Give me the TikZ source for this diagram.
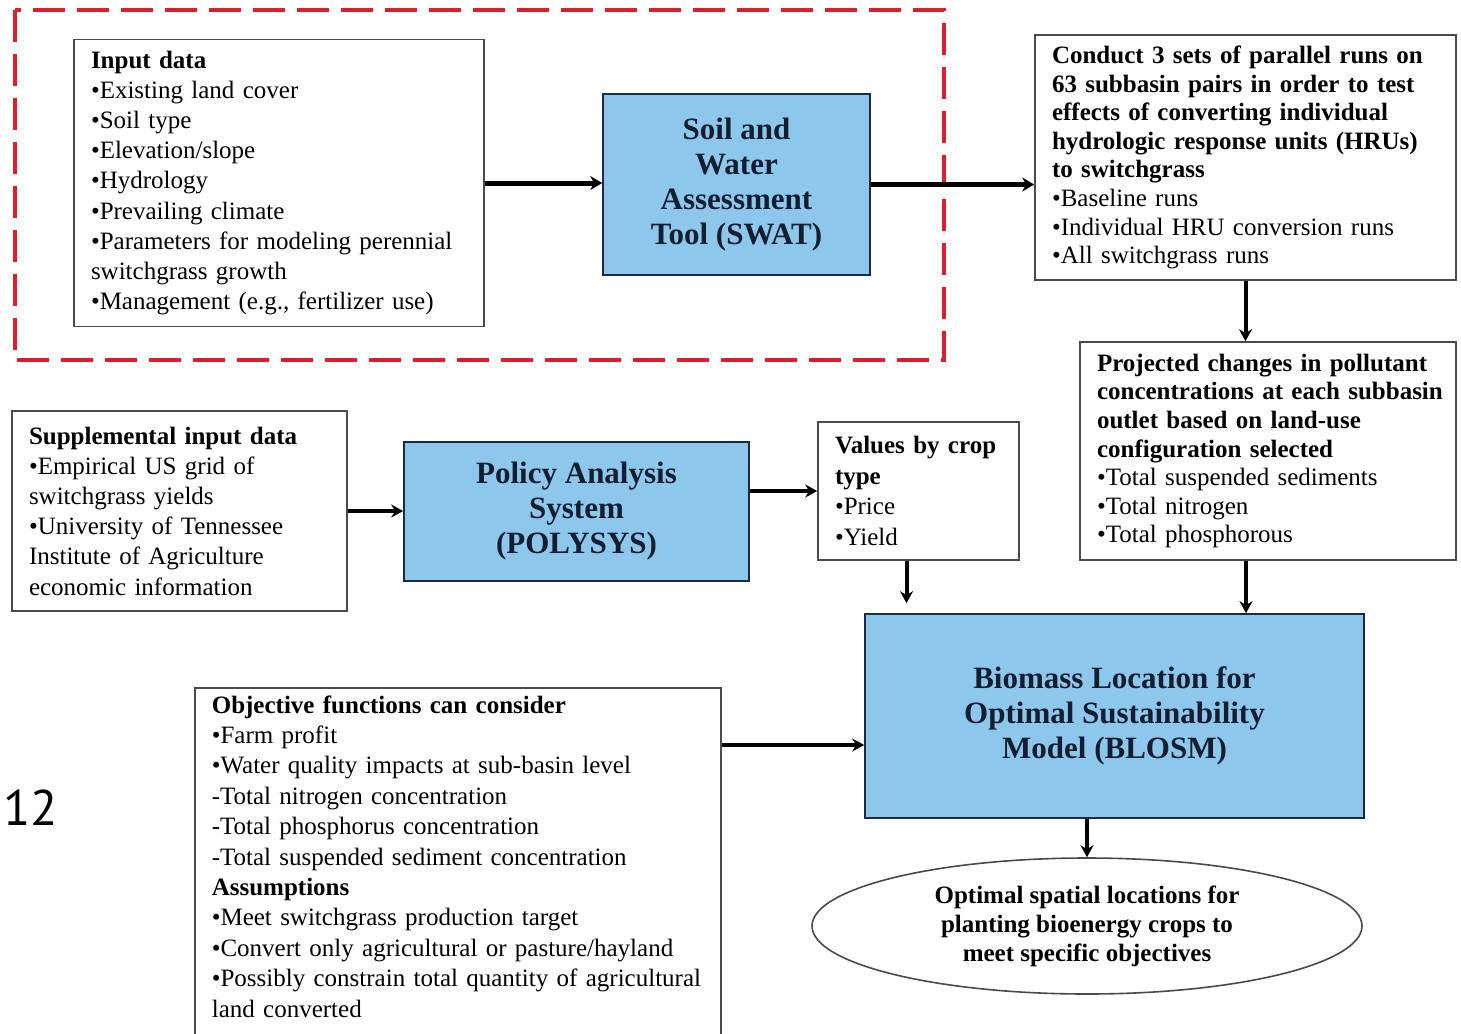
\documentclass[tikz,border=0pt]{standalone}
\usepackage{fontspec}
\setmainfont{Liberation Serif}
\newfontfamily\pagefont{PT Sans}
\usetikzlibrary{arrows.meta}
\usetikzlibrary{shapes.geometric}
\definecolor{boxblue}{HTML}{8DC8EC}
\definecolor{boxline}{HTML}{1E2A44}
\definecolor{dashred}{HTML}{DD1F2C}
\definecolor{framegray}{HTML}{4A4A4A}
\tikzstyle{info} = [draw=framegray, line width=0.8pt, align=left, inner xsep=8.5pt, inner ysep=0pt]
\tikzstyle{model} = [draw=boxline, line width=0.8pt, fill=boxblue, align=center, text=boxline!70!black, font=\bfseries\fontsize{15.5}{17.5}\selectfont]
\tikzstyle{flow} = [line width=2pt, -{Stealth[length=6pt,width=6.5pt]}]
\tikzstyle{bigflow} = [line width=2.5pt, -{Stealth[length=6pt,width=7pt]}]

\begin{document}
\begin{tikzpicture}[x=0.5pt,y=-0.5pt]
	\clip (0,0) rectangle (1461,1033);
	\fill[white] (0,0) rectangle (1461,1033);
	\draw[dashred, line width=1.8pt, dash pattern=on 16pt off 6pt] (15,10) rectangle (944,360);
	\node[info, minimum width=205pt, minimum height=143.5pt, text width=188pt, font=\fontsize{12.5}{15.1}\selectfont] (inp) at (279,183) {\textbf{Input data}\\•Existing land cover\\•Soil type\\•Elevation/slope\\•Hydrology\\•Prevailing climate\\•Parameters for modeling perennial\\switchgrass growth\\•Management (e.g., fertilizer use)};
	\node[model, minimum width=133.5pt, minimum height=90.5pt] (swat) at (736.5,184.5) {Soil and\\Water\\Assessment\\Tool (SWAT)};
	\node[info, minimum width=210.5pt, minimum height=122.5pt, text width=193.5pt, font=\fontsize{12.5}{14.3}\selectfont] (cond) at (1245.5,157.5) {\textbf{Conduct 3 sets of parallel runs on}\\\textbf{63 subbasin pairs in order to test}\\\textbf{effects of converting individual}\\\textbf{hydrologic response units (HRUs)}\\\textbf{to switchgrass}\\•Baseline runs\\•Individual HRU conversion runs\\•All switchgrass runs};
	\node[info, minimum width=188pt, minimum height=109pt, text width=171pt, font=\fontsize{12.5}{14.3}\selectfont] (proj) at (1268,451) {\textbf{Projected changes in pollutant}\\\mbox{\textbf{concentrations at each subbasin}}\\\textbf{outlet based on land-use}\\\textbf{configuration selected}\\•Total suspended sediments\\•Total nitrogen\\•Total phosphorous};
	\node[info, minimum width=167.5pt, minimum height=100pt, text width=150.5pt, font=\fontsize{12.5}{15.1}\selectfont] (supp) at (179.5,511) {\textbf{Supplemental input data}\\•Empirical US grid of\\switchgrass yields\\•University of Tennessee\\Institute of Agriculture\\economic information};
	\node[model, minimum width=172.5pt, minimum height=69.5pt] (poly) at (576.5,511.5) {Policy Analysis\\System\\(POLYSYS)};
	\node[info, minimum width=100.5pt, minimum height=69pt, text width=83.5pt, font=\fontsize{12.5}{15.4}\selectfont] (vals) at (918.5,491) {\textbf{Values by crop}\\\textbf{type}\\•Price\\•Yield};
	\node[model, minimum width=249.5pt, minimum height=102pt] (blosm) at (1114.5,716) {Biomass Location for\\Optimal Sustainability\\Model (BLOSM)};
	\node[info, anchor=north west, minimum width=263pt, text width=246pt, inner ysep=3.8pt, text depth=178pt, font=\fontsize{12.5}{15.2}\selectfont] (obj) at (194,687) {\textbf{Objective functions can consider}\\•Farm profit\\•Water quality impacts at sub-basin level\\-Total nitrogen concentration\\-Total phosphorus concentration\\-Total suspended sediment concentration\\\textbf{Assumptions}\\•Meet switchgrass production target\\•Convert only agricultural or pasture/hayland\\•Possibly constrain total quantity of agricultural\\land converted};
	\node[draw=framegray, line width=0.8pt, ellipse, minimum width=275pt, minimum height=68pt, inner sep=0pt, align=center, font=\bfseries\fontsize{12.5}{14.5}\selectfont] (outc) at (1087,926) {Optimal spatial locations for\\planting bioenergy crops to\\meet specific objectives};
	\node[anchor=west, inner sep=0pt, font=\pagefont\fontsize{25}{25}\selectfont] (pg) at (3,808) {12};
	\draw[bigflow] (inp.east) -- (inp.east -| swat.west);
	\draw[bigflow] (swat.east) -- (swat.east -| cond.west);
	\draw[flow] (cond.south) -- (cond.south |- proj.north);
	\draw[flow] (supp.east) -- (supp.east -| poly.west);
	\draw[flow] (vals.west -| poly.east) -- (vals.west);
	\draw[flow, shorten >=5pt] ([xshift=-6pt]vals.south) -- ([xshift=-6pt]vals.south |- blosm.north);
	\draw[flow] ([xshift=-11pt]proj.south) -- ([xshift=-11pt]proj.south |- blosm.north);
	\draw[flow] ([yshift=-14.5pt]blosm.west -| obj.east) -- ([yshift=-14.5pt]blosm.west);
	\draw[flow] (outc.north |- blosm.south) -- (outc.north);
\end{tikzpicture}
\end{document}
